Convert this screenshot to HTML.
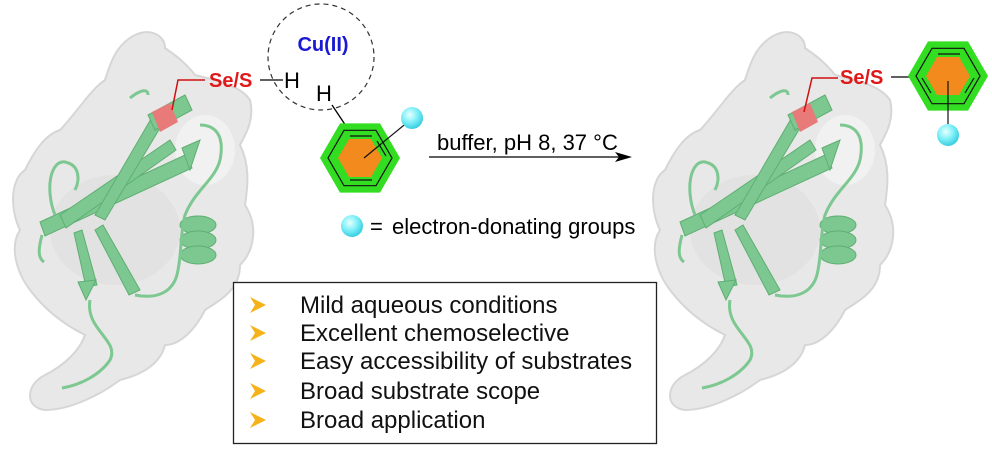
<!DOCTYPE html>
<html><head><meta charset="utf-8"><style>
html,body{margin:0;padding:0;background:#fff;}
svg{display:block;}
text{font-family:"Liberation Sans",Arial,sans-serif;}
</style></head><body>
<svg width="992" height="450" viewBox="0 0 992 450" xmlns="http://www.w3.org/2000/svg">
<defs>
<radialGradient id="ball" cx="0.4" cy="0.35" r="0.7">
<stop offset="0" stop-color="#e8ffff"/><stop offset="0.5" stop-color="#7ff0f8"/><stop offset="1" stop-color="#2ec8dc"/>
</radialGradient>
<g id="prot">
<path d="M135,35 C150,28 165,35 165,48 C175,55 185,62 195,75 C215,80 240,85 250,100 C255,120 245,135 240,145 C250,165 248,185 245,205 C258,225 255,250 240,265 C240,290 220,300 205,310 C195,330 180,345 165,345 C160,365 140,375 120,380 C100,395 70,410 45,410 C25,408 25,385 45,375 C65,365 80,350 85,335 C65,325 45,310 30,290 C15,270 10,245 20,230 C10,210 10,180 25,170 C35,150 45,135 60,130 C75,115 90,90 105,80 C110,65 115,45 135,35 Z" fill="#e8e8e8" stroke="#d6d6d6" stroke-width="2"/>
<ellipse cx="115" cy="230" rx="65" ry="55" fill="#dcdcdc" opacity="0.5"/>
<ellipse cx="205" cy="150" rx="30" ry="35" fill="#f2f2f2" opacity="0.8"/>
<g fill="#7cc890" stroke="#5fae72" stroke-width="1">
<polygon points="40,222 185,155 192,168 45,236"/>
<polygon points="182,148 200,140 190,170"/>
<polygon points="60,215 170,140 176,150 66,228"/>
<polygon points="95,215 155,112 166,118 105,220"/>
<polygon points="148,115 185,95 192,110 155,130"/>
<polygon points="82,230 97,285 86,287 74,233"/>
<polygon points="78,282 96,280 86,300"/>
<polygon points="103,225 140,290 129,295 95,230"/>
<ellipse cx="198" cy="225" rx="18" ry="9"/>
<ellipse cx="198" cy="240" rx="18" ry="9"/>
<ellipse cx="198" cy="255" rx="18" ry="9"/>
</g>
<g fill="none" stroke="#7cc890" stroke-width="3">
<path d="M90,300 C85,330 120,340 110,360 C100,375 80,385 62,388"/>
<path d="M135,295 C160,300 175,290 178,270 C182,250 180,235 185,215 C195,190 215,180 220,160 C225,135 215,125 200,125"/>
<path d="M42,235 C38,250 38,258 44,262"/>
<path d="M55,215 C45,190 50,160 65,162 C80,165 80,180 75,190"/>
<path d="M130,98 C140,90 148,88 148,95"/>
</g>
<polygon points="152,112 170,103 178,122 160,132" fill="#e87a7a"/>
</g>
</defs>

<use href="#prot"/>
<polyline points="172,110 178,80 205,80" fill="none" stroke="#d01010" stroke-width="1.5"/>
<text x="209" y="87" font-size="20" font-weight="bold" fill="#e01818">Se/S</text>
<line x1="260" y1="80" x2="283" y2="80" stroke="#000" stroke-width="1.3"/>
<text x="284" y="88" font-size="22" fill="#000">H</text>

<circle cx="321" cy="57" r="53" fill="none" stroke="#333" stroke-width="1.2" stroke-dasharray="5,4"/>
<text x="323" y="51" font-size="20" font-weight="bold" fill="#1a1ad0" text-anchor="middle">Cu(II)</text>
<text x="316" y="101" font-size="22" fill="#000">H</text>
<line x1="332" y1="105" x2="346" y2="126" stroke="#000" stroke-width="1.3"/>

<g transform="translate(360,158)">
<polygon points="-40,0 -20,-34.6 20,-34.6 40,0 20,34.6 -20,34.6" fill="#33dd22"/>
<polygon points="-32,0 -16,-27.7 16,-27.7 32,0 16,27.7 -16,27.7" fill="none" stroke="#111" stroke-width="1.2"/>
<polygon points="-22,0 -11,-19 11,-19 22,0 11,19 -11,19" fill="#f28a1e"/>
<line x1="-10" y1="-22" x2="12" y2="-22" stroke="#111" stroke-width="1.2"/>
<line x1="17" y1="-17" x2="26" y2="-2" stroke="#111" stroke-width="1.2"/>
<line x1="-10" y1="22" x2="12" y2="22" stroke="#111" stroke-width="1.2"/>
<line x1="4" y1="0" x2="49" y2="-37" stroke="#111" stroke-width="1.2"/>
</g>
<circle cx="412" cy="118" r="11" fill="url(#ball)"/>

<text x="437" y="150" font-size="22" fill="#000">buffer, pH 8, 37 °C</text>
<line x1="429" y1="157" x2="625" y2="157" stroke="#000" stroke-width="1.3"/>
<polygon points="632,157 615,152 619,157 615,162" fill="#000"/>

<circle cx="352" cy="226" r="11" fill="url(#ball)"/>
<text x="370" y="234" font-size="22" fill="#000">=</text>
<text x="392" y="234" font-size="22" fill="#000">electron-donating groups</text>

<use href="#prot" transform="translate(640,0)"/>
<polyline points="804,112 812,78 838,78" fill="none" stroke="#d01010" stroke-width="1.5"/>
<text x="840" y="84" font-size="20" font-weight="bold" fill="#e01818">Se/S</text>
<line x1="891" y1="77" x2="910" y2="77" stroke="#000" stroke-width="1.3"/>
<g transform="translate(948,76)">
<polygon points="-40,0 -20,-34.6 20,-34.6 40,0 20,34.6 -20,34.6" fill="#33dd22"/>
<polygon points="-32,0 -16,-27.7 16,-27.7 32,0 16,27.7 -16,27.7" fill="none" stroke="#111" stroke-width="1.2"/>
<polygon points="-22,0 -11,-19 11,-19 22,0 11,19 -11,19" fill="#f28a1e"/>
<line x1="-10" y1="-22" x2="12" y2="-22" stroke="#111" stroke-width="1.2"/>
<line x1="17" y1="17" x2="26" y2="2" stroke="#111" stroke-width="1.2"/>
<line x1="-26" y1="2" x2="-17" y2="17" stroke="#111" stroke-width="1.2"/>
<line x1="0" y1="5" x2="0" y2="48" stroke="#111" stroke-width="1.2"/>
</g>
<circle cx="948" cy="135" r="11" fill="url(#ball)"/>

<rect x="233.5" y="282.5" width="423" height="161" fill="#fff" stroke="#222" stroke-width="1.3"/>
<g fill="#f5b21a">
<polygon points="250,297 266,305 250,313 255,305"/>
<polygon points="250,325 266,333 250,341 255,333"/>
<polygon points="250,353 266,361 250,369 255,361"/>
<polygon points="250,383 266,391 250,399 255,391"/>
<polygon points="250,412 266,420 250,428 255,420"/>
</g>
<g font-size="24" fill="#111">
<text x="300" y="313">Mild aqueous conditions</text>
<text x="300" y="341">Excellent chemoselective</text>
<text x="300" y="369">Easy accessibility of substrates</text>
<text x="300" y="399">Broad substrate scope</text>
<text x="300" y="428">Broad application</text>
</g>
</svg>
</body></html>
